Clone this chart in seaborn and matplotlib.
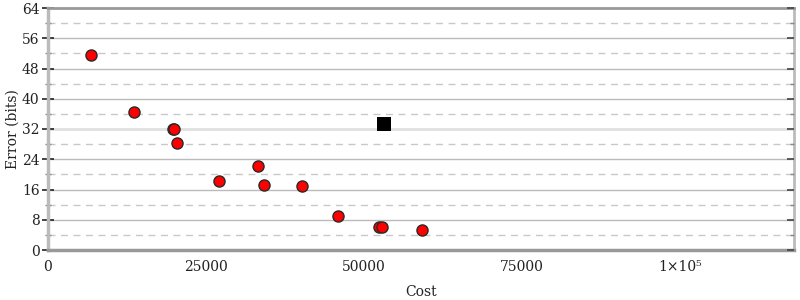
import matplotlib
matplotlib.use("Agg")
import matplotlib.pyplot as plt
import seaborn as sns
import pandas as pd
import numpy as np

# Data
cost = [6756, 13560, 19700, 19950, 20412, 27057, 33276, 34130, 40143, 45934, 52374, 52849, 59131]
error = [51.5, 36.5, 32.0, 32.0, 28.3, 18.25, 22.2, 17.3, 17.0, 8.9, 6.0, 6.0, 5.4]
special_cost = [53165]
special_error = [33.4]

x_ticks = [0, 25000, 50000, 75000, 100000]
x_tick_labels = ["0", "25000", "50000", "75000", "1×10⁵"]
y_ticks = [0, 8, 16, 24, 32, 40, 48, 56, 64]

sns.set_style("white")
plt.rcParams["font.family"] = ["DejaVu Serif"]

fig = plt.figure(figsize=(8, 3), dpi=100)
ax = fig.add_axes([48/800, 1-250/300, (794-48)/800, (250-8)/300])

df = pd.DataFrame({"cost": cost, "error": error})
dfs = pd.DataFrame({"cost": special_cost, "error": special_error})

ax.set_xlim(0, 118000)
ax.set_ylim(0, 64)

# grid lines
for v in range(4, 64, 8):
    ax.axhline(v, color="#c8c8c8", lw=1, ls=(0, (5, 4)), zorder=0)
for v in range(8, 64, 8):
    if v == 32:
        ax.axhline(v, color="#e0e0e0", lw=2, zorder=0)
    else:
        ax.axhline(v, color="#bbbbbb", lw=1, zorder=0)

sns.scatterplot(data=df, x="cost", y="error", ax=ax, color="#ff0000", edgecolor="#2a2a2a",
                linewidth=1, s=64, marker="o", zorder=3, clip_on=False)
sns.scatterplot(data=dfs, x="cost", y="error", ax=ax, color="black", edgecolor="black",
                linewidth=0, s=110, marker="s", zorder=3)

ax.set_xticks(x_ticks)
ax.set_xticklabels(x_tick_labels)
ax.set_yticks(y_ticks)
ax.set_yticks(list(range(4, 64, 8)), minor=True)
ax.tick_params(axis="both", labelsize=10, labelcolor="#222222")
ax.tick_params(axis="y", which="major", direction="inout", length=8, width=1.2, color="#222222",
               left=True, right=False, pad=2)
ax.tick_params(axis="y", which="minor", direction="inout", length=4, width=1, color="#888888",
               right=False, left=True)
ax.tick_params(axis="x", which="major", direction="inout", length=8, width=1, color="#222222", pad=3)

# inward ticks on the right side
ax2 = ax.twinx()
ax2.set_ylim(0, 64)
ax2.set_yticks(y_ticks)
ax2.set_yticks(list(range(4, 64, 8)), minor=True)
ax2.set_yticklabels([])
ax2.tick_params(axis="y", which="major", direction="in", length=5, width=1.2, color="#444444")
ax2.tick_params(axis="y", which="minor", direction="in", length=3, width=1, color="#888888")
for sp in ax2.spines.values():
    sp.set_visible(False)

for s, sp in ax.spines.items():
    sp.set_visible(True)
ax.spines["left"].set_color("#bbbbbb")
ax.spines["left"].set_linewidth(2.5)
ax.spines["right"].set_color("#bbbbbb")
ax.spines["right"].set_linewidth(2)
ax.spines["bottom"].set_color("#999999")
ax.spines["bottom"].set_linewidth(2.5)
ax.spines["top"].set_color("#999999")
ax.spines["top"].set_linewidth(2)

ax.set_xlabel("Cost", fontsize=10, color="#222222", labelpad=8)
ax.set_ylabel("Error (bits)", fontsize=10, color="#222222", labelpad=2)

fig.savefig("out.png", dpi=100)
